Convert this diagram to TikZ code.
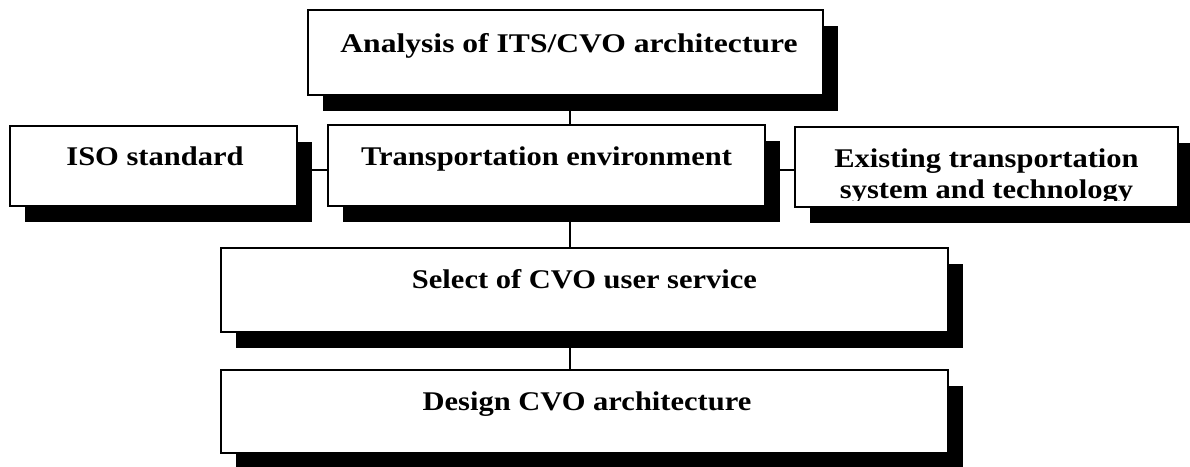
\documentclass[tikz,border=0pt]{standalone}
\usepackage{fontspec}
\setmainfont{Liberation Serif}[FakeStretch=1.13]
\usetikzlibrary{shadows}
\begin{document}
\begin{tikzpicture}[x=1pt,y=-1pt,
  box/.style={draw=black, line width=2.1pt, fill=white, rectangle, inner sep=0pt,
    drop shadow={shadow xshift=15pt, shadow yshift=-16pt, opacity=1, fill=black}},
  caption/.style={inner sep=0pt, font=\bfseries\fontsize{27}{31}\selectfont, align=center},
  link/.style={line width=2pt}]
\useasboundingbox (0,0) rectangle (1190,466);

% reference points for the spine, the side links and the text cut-off line
\coordinate (spine) at (570,0);
\coordinate (row) at (0,170);
\coordinate (cut) at (0,200);

% boxes
\node[box, minimum width=515pt, minimum height=85pt] (top)    at (565.5,52.5) {};
\node[box, minimum width=287pt, minimum height=80pt] (iso)    at (153.5,166)  {};
\node[box, minimum width=437pt, minimum height=81pt] (trans)  at (546.5,165.5) {};
\node[box, minimum width=383pt, minimum height=80pt] (exist)  at (986.5,167)  {};
\node[box, minimum width=727pt, minimum height=84pt] (select) at (584.5,290)  {};
\node[box, minimum width=727pt, minimum height=83pt] (design) at (584.5,411.5) {};

% connectors
\draw[link] (top.south -| spine) -- (trans.north -| spine);
\draw[link] (trans.south -| spine) -- (select.north -| spine);
\draw[link] (select.south -| spine) -- (design.north -| spine);
\draw[link] (iso.east |- row) -- (trans.west |- row);
\draw[link] (trans.east |- row) -- (exist.west |- row);

% captions
\node[caption, anchor=base] (ttop)    at (569,52)    {\addfontfeature{FakeStretch=1.17}Analysis of ITS/CVO architecture};
\node[caption, anchor=base] (tiso)    at (155,165)   {ISO standard};
\node[caption, anchor=base] (ttrans)  at (546.5,165) {Transportation environment};
\begin{scope}
  \clip (exist.north west) rectangle (exist.east |- cut);
  \node[caption, anchor=north] (texist) at (986.5,149) {Existing transportation\\system and technology};
\end{scope}
\node[caption, anchor=base] (tselect) at (584.5,288) {Select of CVO user service};
\node[caption, anchor=base] (tdesign) at (587,410)   {Design CVO architecture};
\end{tikzpicture}
\end{document}
